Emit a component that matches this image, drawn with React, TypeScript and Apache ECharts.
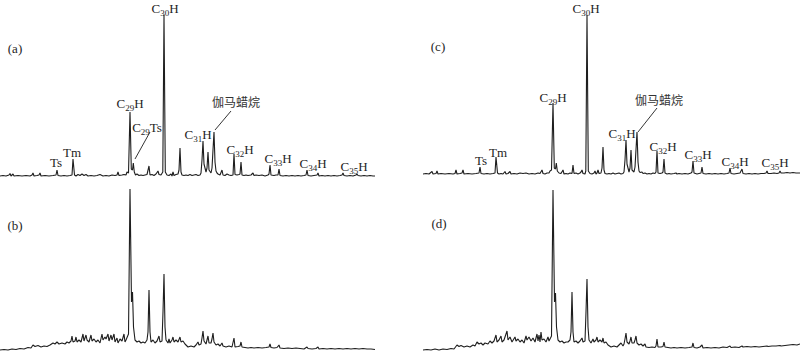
import React, { useEffect, useRef } from "react";
import * as echarts from "echarts";

// Retention position (scan index) and relative abundance
const panelA: [number, number][] = [
  [0,4],[3,4.5],[6,4],[9,5],[10,6.5],[11,4],[13,6],[14,4],[18,4.5],[22,4],[26,4.5],[30,4],[32,5],[33,7],[34,4],[37,4.5],[39,5],[40,7],[41,4],[45,4.5],[49,4],[53,4.5],[56,5],[57,10],[58,4.5],[61,4],[64,4.5],[67,4],[70,4.5],[72,5],[73,21],[74.5,5],[76,4],[78,5.5],[80,4.5],[82,6],[84,4.5],[86,5.5],[88,4],[91,4.5],[94,4],[97,4.5],[100,5.5],[103,4],[106,4.5],[109,4],[112,5],[115,4.5],[117,5],[118,8],[119,4.5],[122,5],[124,5.5],[126,5],[127,8],[128.5,7],[130,68],[131.3,11],[132.5,10],[133.3,17],[134.3,8],[135.5,5],[137,6],[139,4.5],[141,5],[143,4.5],[145,5],[147,5.5],[149,14],[150,5],[152,5.5],[154,4.5],[156,6],[158,9],[159,5.5],[161,5],[162.8,8],[164,165],[165.3,8],[167,5],[169,4.5],[171,6],[172,4],[173,8],[174,4.5],[176,5.5],[178,6],[179,10],[180,32],[181,8],[182,5],[184,4.5],[186,5],[188,4.5],[190,5.5],[192,4.5],[194,5],[196,5.5],[198,4.5],[200,5],[201,7],[202,20],[203,39],[204,16],[206,8],[207,12],[208,28],[209,10],[211,7],[212,12],[214,48],[215,18],[216,9],[217,7],[218,6],[220,5],[222,10],[223,5],[225,4.5],[227,6],[229,5],[231,4.5],[233,5],[234,26],[235,5.5],[237,5],[239,5.5],[240,6],[241,18],[242,5],[244,4.5],[246,5],[248,4.5],[251,5],[253,7],[254,4.5],[256,5],[259,4.5],[262,5],[265,4],[268,5],[269,6],[270,15],[271,5],[274,4.5],[276,5],[278,5],[279,11],[280,4.5],[283,4],[286,4.5],[289,4],[292,4.5],[295,4],[298,4.5],[301,4],[304,4.5],[306,5],[307,10],[308,4.5],[311,4],[314,4.5],[317,5],[318,7],[319,4],[322,4.5],[325,4],[328,4.5],[331,4],[334,4.5],[337,4],[340,4.5],[342,5],[343,7],[344,4.5],[347,4],[350,4.5],[353,4],[356,5],[357,6],[358,4.5],[361,4],[364,4.5],[367,4],[370,4.5],[373,4],[375,4]
];

const panelB: [number, number][] = [
  [0,2],[4,2.5],[8,2],[12,3],[16,2.5],[20,3.5],[24,3],[28,4.5],[31,4],[33,7],[35,5.5],[38,6.5],[41,5],[44,6],[47,5.5],[50,7],[53,9],[55,8],[57,10],[59,8],[62,9],[65,8],[67,10],[69,9],[71,11],[72,16],[73,10],[75,11],[76,15],[77,10],[79,12],[81,10],[83,18],[84,11],[86,17],[87,12],[89,10],[91,17],[92,11],[94,13],[96,10],[98,12],[100,9],[102,18],[103,12],[105,15],[106,13],[108,18],[109,11],[111,17],[112,12],[114,18],[115,10],[117,14],[118,9],[120,13],[122,11],[124,18],[125,10],[126,12],[128.5,18],[130,163],[131.5,50],[132.5,60],[133.5,25],[135,12],[137,10],[139,11],[141,9],[143,10],[145,9],[147,12],[148,20],[149,62],[150,20],[151,10],[153,12],[155,9],[157,11],[159,16],[160,10],[162,11],[163,40],[164,78],[165,25],[166,12],[168,9],[169,13],[170,9],[172,12],[173,15],[174,10],[176,12],[178,10],[180,15],[181,10],[183,11],[185,8],[188,5],[191,6],[194,5],[196,7],[198,10],[199,7],[201,8],[202,14],[203,21],[204,11],[206,8],[207,12],[208,16],[209,9],[211,9],[212,13],[213,19],[214,10],[216,7],[218,8],[220,6],[222,9],[223,6],[226,5],[229,6],[232,5],[234,14],[235,5],[238,5.5],[240,6],[241,10],[242,5],[245,4.5],[248,4],[251,4.5],[254,4],[258,4.5],[262,4],[266,4.5],[269,5],[270,8],[271,4.5],[274,4],[277,4.5],[279,7],[280,4],[284,3.5],[288,4],[292,3.5],[296,4],[300,3.5],[304,3],[307,5],[308,3.5],[312,3],[316,3.5],[318,5],[319,3],[323,3.5],[327,3],[331,3.5],[335,3],[339,3.5],[343,3],[347,3.5],[351,3],[355,3.5],[359,3],[363,3.5],[367,3],[371,3],[375,2.5]
];

const panelC: [number, number][] = [
  [0,6],[3,6.5],[6,6],[9,8.5],[10,6],[13,6.5],[14,9],[15,6],[18,6.5],[22,6],[26,6.5],[30,6],[32,6.5],[33,10],[34,6],[37,6.5],[39,7],[40,10],[41,6],[45,6.5],[49,6],[53,6.5],[56,7],[57,13],[58,6.5],[61,6],[64,6.5],[67,6],[70,6.5],[72,7],[73,23],[74.5,7],[76,6],[78,6.5],[80,6],[82,8.5],[83,6],[85,6.5],[87,8.5],[88,6],[91,6.5],[94,6],[97,7],[100,6.5],[103,7],[106,6],[109,6.5],[112,6],[115,7],[117,6.5],[119,10],[120,6.5],[122,6],[124,7],[126,7],[127,9],[128.5,10],[130,77],[131.3,12],[132.5,11],[133.3,17],[134.3,9],[136,7],[138,6.5],[140,10],[141,6],[143,6.5],[145,6],[147,7],[149,6.5],[150,15],[151,6.5],[153,7],[155,6],[157,7],[158,8],[159,10],[160,6.5],[162,6],[162.8,9],[164,165],[165.3,9],[167,6.5],[169,6],[171,7],[172,9],[173,6],[174,7],[175,10],[176,6.5],[178,7],[179,12],[180,33],[181,10],[182,6.5],[184,6],[186,6.5],[188,6],[190,7],[192,6],[194,6.5],[196,7],[198,6],[200,6.5],[201,8],[202,20],[203,40],[204,16],[206,8],[207,12],[208,30],[209,10],[211,8],[212,13],[214,48],[215,18],[216,9],[217,7.5],[219,8],[220,6.5],[222,7],[224,6],[226,6.5],[228,6],[230,7],[232,6.5],[233,8],[234,29],[235,7],[237,6.5],[239,7],[240,8],[241,21],[242,7],[244,6],[246,6.5],[248,6],[251,6.5],[253,7],[254,6],[256,6.5],[259,6],[262,6.5],[265,6],[268,7],[269,8],[270,19],[271,7],[274,6],[276,6.5],[278,7],[279,13],[280,6.5],[283,6],[286,6.5],[289,6],[292,6.5],[295,6],[298,6.5],[301,6],[304,6.5],[306,7],[307,12],[308,6.5],[311,6],[314,6.5],[317,7],[319,11],[320,6.5],[323,6],[326,6.5],[329,6],[332,6.5],[335,6],[338,6.5],[341,6.5],[343,7],[344,9],[345,6.5],[348,6.5],[351,7],[354,6.5],[356,7],[357,9],[358,7],[361,7],[364,7.5],[367,7],[370,7.5],[373,7],[377,7]
];

const panelD: [number, number][] = [
  [0,2],[4,2.5],[8,2],[12,3],[16,2],[20,3],[24,2.5],[28,3.5],[31,3],[34,7],[36,5.5],[38,6.5],[41,5],[44,6],[47,5],[50,7],[52,6],[54,10],[56,8],[58,9],[60,7],[62,9],[65,8],[67,11],[69,9],[71,11],[73,17],[74,10],[76,12],[78,16],[79,10],[81,12],[84,21],[85,12],[87,15],[89,10],[92,15],[93,11],[95,13],[97,10],[99,12],[101,9],[103,16],[104,12],[106,15],[108,11],[110,14],[112,10],[114,18],[115,11],[116,17],[117,10],[118,20],[119,12],[121,13],[123,10],[125,15],[126,11],[128.5,16],[130,162],[131.5,50],[132.5,59],[133.5,25],[135,12],[137,10],[139,11],[141,9],[143,10],[145,10],[147,12],[148,20],[149,60],[150,20],[151,10],[153,11],[155,9],[157,11],[159,14],[160,10],[162,11],[163,40],[164,73],[165,25],[166,12],[168,9],[170,13],[171,10],[173,12],[174,15],[175,10],[177,12],[179,10],[180,14],[181,9],[183,10],[185,7],[188,5],[191,6],[194,5],[196,7],[198,9],[200,6],[201,8],[202,13],[203,19],[204,10],[206,8],[207,11],[208,15],[209,9],[211,9],[212,12],[213,16],[214,9],[216,7],[218,8],[220,6],[222,8],[223,5],[226,4.5],[229,5],[232,4.5],[233,6],[234,13],[235,5],[238,5],[240,5.5],[241,10],[242,5],[245,4.5],[248,4],[251,4.5],[254,4],[258,4.5],[262,4],[266,4.5],[269,5],[270,9],[271,4.5],[274,4],[277,5],[279,7],[280,4],[284,4.5],[288,4],[292,4.5],[296,4],[300,5],[304,4.5],[307,6],[308,4.5],[312,5],[316,4.5],[319,6],[320,5],[324,5.5],[328,5],[332,5.5],[336,5],[340,5.5],[344,6],[345,5.5],[349,6],[353,6],[357,6.5],[358,6],[362,6.5],[366,7],[370,7.5],[374,7],[377,8]
];

const panelTags = ["(a)", "(b)", "(c)", "(d)"];
const peakNamesA = ["Ts", "Tm", "C29H", "C29Ts", "C30H", "伽马蜡烷", "C31H", "C32H", "C33H", "C34H", "C35H"];
const peakNamesC = ["Ts", "Tm", "C29H", "C30H", "伽马蜡烷", "C31H", "C32H", "C33H", "C34H", "C35H"];

const SERIF = "'Liberation Serif', 'Times New Roman', serif";
const CJK = "'Noto Sans CJK SC', sans-serif";
const INK = "#1e1e1e";

function richText(s: string): string {
  if (/[\u4e00-\u9fff]/.test(s)) return `{z|${s}}`;
  const m = s.match(/^C(\d+)(.*)$/);
  if (!m) return `{c|${s}}`;
  return `{c|C}{s|${m[1]}}{c|${m[2]}}`;
}

const rich = {
  c: { fontSize: 13, lineHeight: 18, fontFamily: SERIF, fill: INK, color: INK },
  s: { fontSize: 9, lineHeight: 9, fontFamily: SERIF, fill: INK, color: INK, verticalAlign: "bottom" },
  z: { fontSize: 12, lineHeight: 18, fontFamily: CJK, fill: "#333", color: "#333" },
};

function textEl(s: string, x: number, y: number) {
  return {
    type: "text",
    x,
    y,
    silent: true,
    style: {
      text: richText(s),
      rich,
      align: "center",
      verticalAlign: "middle",
      fill: INK,
      fontFamily: SERIF,
      fontSize: 13,
    },
  };
}

export default function App() {
  const ref = useRef<HTMLDivElement>(null);
  useEffect(() => {
    if (!ref.current) return;
    const chart = echarts.init(ref.current, null, { renderer: "svg" });

    const posA: [number, number][] = [
      [56, 162], [72, 152], [130, 103], [147, 127], [165, 8], [236, 101],
      [198, 134], [240, 149], [278, 158], [313, 163], [354, 166],
    ];
    const posC: [number, number][] = [
      [481, 160], [498, 152], [553, 97], [586, 8], [659, 99],
      [622, 133], [663, 146], [698, 154], [735, 161], [775, 162],
    ];
    const tagPos: [number, number][] = [[15, 48], [15, 225], [438, 46], [439, 223]];

    const graphics: any[] = [];
    peakNamesA.forEach((n, i) => graphics.push(textEl(n, posA[i][0], posA[i][1])));
    peakNamesC.forEach((n, i) => graphics.push(textEl(n, posC[i][0], posC[i][1])));
    panelTags.forEach((t, i) => graphics.push(textEl(t, tagPos[i][0], tagPos[i][1])));
    const leaders = [
      [150, 132, 135, 159],
      [231, 111, 215, 130],
      [657, 108, 638, 132],
    ];
    leaders.forEach(([x1, y1, x2, y2]) =>
      graphics.push({
        type: "line",
        silent: true,
        shape: { x1, y1, x2, y2 },
        style: { stroke: INK, lineWidth: 0.9 },
      })
    );

    const grids = [
      { left: 0, top: 15, width: 377, height: 165 },
      { left: 0, top: 187, width: 377, height: 165 },
      { left: 423, top: 15, width: 377, height: 165 },
      { left: 423, top: 187, width: 377, height: 165 },
    ];
    const datasets = [panelA, panelB, panelC, panelD];

    chart.setOption({
      animation: false,
      backgroundColor: "#ffffff",
      grid: grids,
      xAxis: grids.map((_, i) => ({ type: "value", gridIndex: i, min: 0, max: 377, show: false })),
      yAxis: grids.map((_, i) => ({ type: "value", gridIndex: i, min: 0, max: 165, show: false })),
      series: datasets.map((d, i) => ({
        type: "line",
        xAxisIndex: i,
        yAxisIndex: i,
        data: d,
        showSymbol: false,
        clip: false,
        lineStyle: { color: INK, width: 1.1 },
      })),
      graphic: graphics,
    });
    return () => chart.dispose();
  }, []);
  return <div ref={ref} style={{ position: "fixed", left: 0, top: 0, width: 800, height: 353 }} />;
}
